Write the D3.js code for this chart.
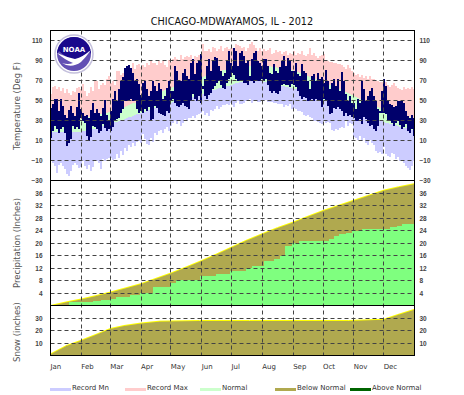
<!DOCTYPE html>
<html>
<head>
<meta charset="utf-8">
<script src="https://cdn.jsdelivr.net/npm/d3@7"></script>
<style>
  html, body { margin: 0; padding: 0; background: #fff; }
  svg { display: block; }
  text { font-family: "DejaVu Sans", sans-serif; fill: #333; }
  .tick text { font-family: "Liberation Sans", sans-serif; font-size: 6.5px; font-weight: bold; fill: #444; }
</style>
</head>
<body>
<svg id="chart" width="464" height="395"></svg>
<script>
const WIDTH = 464;
const HEIGHT = 395;

// values read every second day, Jan 1 onward
const recMax = [
  57,64,65,62,64,60,63,58,62,58,56,60,59,63,64,62,
  67,60,55,58,64,60,70,70,62,66,68,66,72,75,
  68,70,66,80,80,76,78,78,80,84,80,88,82,86,87,84,
  86,84,88,86,90,88,88,86,90,88,90,86,84,91,89,
  92,94,92,90,96,92,94,95,94,96,92,95,94,96,93,
  107,100,100,102,99,104,103,100,102,105,100,103,104,102,103,
  103,100,107,106,105,103,104,100,103,107,109,106,103,100,103,100,
  102,100,101,103,97,98,101,99,100,97,99,100,96,98,97,
  100,96,98,97,100,96,95,97,103,96,98,95,93,95,96,
  97,90,90,89,89,88,88,87,87,86,84,82,86,83,80,
  78,76,77,74,76,73,75,72,75,72,72,70,70,69,69,
  70,69,66,64,66,68,65,63,62,61,64,62,63,62,64,62
];
const recMin = [
  -10,-12,-15,-22,-14,-12,-15,-18,-23,-25,-20,-14,-12,-14,-17,-16,
  -10,-15,-18,-14,-20,-16,-10,-10,-12,-18,-8,-10,-8,-7,
  -7,-9,-8,-3,-7,0,-4,3,0,6,4,8,5,9,10,8,
  17,12,7,6,13,9,18,16,20,21,18,22,24,20,25,
  28,30,27,30,25,28,32,30,33,33,35,33,36,37,38,
  40,36,38,35,41,40,42,45,42,44,46,46,47,46,48,
  46,44,48,50,47,47,48,50,50,52,48,50,50,49,49,50,
  50,51,49,49,49,48,48,47,47,47,44,46,45,47,42,
  43,42,40,40,39,36,35,36,34,33,30,30,29,28,27,
  30,28,29,28,21,20,22,21,23,24,23,30,25,28,27,
  14,13,11,15,10,13,8,6,11,8,6,0,-2,-1,-3,
  4,-3,-5,-6,-2,-3,-8,-6,-10,-9,-12,-15,-17,-19,-15,-10
];
const obsHigh = [
  43,47,52,52,40,52,45,36,33,41,45,38,35,44,58,42,
  38,35,36,33,41,48,38,42,38,35,43,51,36,30,
  40,52,60,50,62,70,74,83,85,86,83,78,70,72,67,56,
  68,70,62,55,60,70,65,60,68,62,52,55,63,70,60,
  60,85,80,70,70,78,82,75,72,88,92,77,88,90,97,
  65,72,85,92,80,90,94,93,85,80,75,78,90,100,88,
  85,103,100,85,98,100,95,88,90,75,92,98,100,90,88,85,
  92,92,85,78,77,87,80,78,84,90,95,85,93,90,80,
  80,88,77,75,87,80,78,70,62,75,77,70,78,72,74,
  68,81,70,62,68,72,65,72,60,79,70,57,50,55,48,
  48,42,52,48,70,62,50,55,60,63,55,50,42,40,60,
  72,65,50,47,46,44,45,50,50,51,48,40,35,33,36,33
];
const obsLow = [
  13,20,25,22,18,22,24,18,5,8,12,25,22,24,22,33,
  30,28,15,10,14,25,24,22,18,20,27,23,20,22,
  20,24,30,32,33,38,42,50,50,50,52,50,50,42,38,40,
  38,42,40,44,30,32,45,43,38,37,36,35,40,38,50,
  52,48,45,44,46,48,45,44,42,50,57,52,50,55,48,
  62,55,52,56,58,62,65,68,70,66,63,62,68,72,74,
  78,76,72,70,70,70,68,68,66,70,70,68,70,70,70,72,
  70,72,66,60,58,60,58,57,60,66,67,66,66,64,67,
  66,64,60,55,52,54,53,50,50,52,50,52,50,50,44,
  52,50,45,37,38,43,42,44,42,40,35,38,35,36,34,
  33,30,30,32,27,34,32,28,25,26,22,20,25,38,38,
  38,37,30,30,28,25,28,30,26,22,24,27,20,18,22,15
];

const normalDays = [0,15,31,46,60,75,91,106,121,136,152,167,182,197,213,228,244,259,274,289,305,320,335,350,366];
const normLow = [19,18,19,22,27,32,38,43,48,52,57,62,66,70,69,66,62,56,50,45,40,34,28,24,20];
const normHigh = [32,31,32,35,39,44,51,57,63,68,74,79,83,85,85,83,80,74,68,62,54,47,41,36,32];
const precipNormal = [0,1.1,2.1,3.2,4.3,5.6,7,8.7,10.4,12.3,14.4,16.5,18.7,20.9,23,24.9,26.7,28.6,30.4,32,33.7,35.3,36.9,38,39];

const precipDays = [0,16,19,43,51,60,66,80,90,103,120,126,150,166,180,197,203,215,220,225,231,236,243,250,258,280,285,290,297,303,313,325,341,348,353,366];
const precipObs = [0,0.3,1,1.3,1.8,2.2,2.6,3.5,4,5.8,7.3,8.3,9.6,10,11,12,12.8,14.1,14.4,15,15.8,19.2,20,20.5,20.8,21.2,22.2,22.8,23.2,23.8,24.4,24.6,25.1,25.4,26.2,26.2];

const snowDays = [0,16,30,46,60,74,91,110,150,200,300,335,350,366];
const snowNormal = [1.3,8,12,17,21.6,24,26,27.5,28,28,28,29,33,37];

const monthStarts = [31,60,91,121,152,182,213,244,274,305,335];
const monthNames = ['Jan','Feb','Mar','Apr','May','Jun','Jul','Aug','Sep','Oct','Nov','Dec'];
const monthDays = [0].concat(monthStarts);

const tempTicks = [-30,-10,10,30,50,70,90,110];
const precipTicks = [4,8,12,16,20,24,28,32,36];
const snowTicks = [10,20,30];

const legendNames = ['Record Mn','Record Max','Normal','Below Normal','Above Normal'];
const legendColors = ['#ccccff','#ffcccc','#ccffcc','#b0a94f','#006400'];

const LEFT = 50.5;
const RIGHT = 414.5;

var svg = d3.select('#chart');
var x = d3.scaleLinear().domain([0, 366]).range([LEFT, RIGHT]);
var yTemp = d3.scaleLinear().domain([-30, 120]).range([180.5, 30.5]);
var yPrecip = d3.scaleLinear().domain([0, 40]).range([305.5, 180.5]);
var ySnow = d3.scaleLinear().domain([0, 40]).range([355.5, 305.5]);

var lowAt = d3.scaleLinear().domain(normalDays).range(normLow);
var highAt = d3.scaleLinear().domain(normalDays).range(normHigh);

// the daily rows hold one value per two days; carry the last one to Dec 31
function everyTwo(values) {
  var rows = values.map(function (d, i) {
    return { day: i * 2, v: d };
  });
  rows.push({ day: 366, v: values[values.length - 1] });
  return rows;
}

function pairs(days, values) {
  return days.map(function (d, i) {
    return { day: d, v: values[i] };
  });
}

function bandRows(low, high) {
  var lows = everyTwo(low);
  var highs = everyTwo(high);
  return lows.map(function (d, i) {
    return { day: d.day, low: d.v, high: highs[i].v };
  });
}

function addPath(d, fill) {
  return svg.append('path').attr('d', d).attr('fill', fill).attr('shape-rendering', 'crispEdges');
}

var tempArea = d3.area()
  .x(function (d) { return x(d.day); })
  .y0(function (d) { return yTemp(d.low); })
  .y1(function (d) { return yTemp(d.high); })
  .curve(d3.curveStepAfter);

// record max sits above the normal high, record min below the normal low
var maxRows = everyTwo(recMax).map(function (d) {
  return { day: d.day, low: highAt(d.day), high: d.v };
});
var minRows = everyTwo(recMin).map(function (d) {
  return { day: d.day, low: d.v, high: lowAt(d.day) };
});
var normalRows = everyTwo(recMax).map(function (d) {
  return { day: d.day, low: lowAt(d.day), high: highAt(d.day) };
});

addPath(tempArea(maxRows), '#ffcccc');
addPath(tempArea(minRows), '#ccccff');
addPath(tempArea(normalRows), '#ccffcc');
addPath(tempArea(bandRows(obsLow, obsHigh)), '#00006b');

function fillUnder(rows, y, fill, curve) {
  var area = d3.area()
    .x(function (d) { return x(d.day); })
    .y0(y(0))
    .y1(function (d) { return y(d.v); })
    .curve(curve);
  addPath(area(rows), fill);
}

function topLine(rows, y) {
  var line = d3.line()
    .x(function (d) { return x(d.day); })
    .y(function (d) { return y(d.v); });
  svg.append('path').attr('d', line(rows)).attr('fill', 'none')
    .attr('stroke', '#ffff00').attr('stroke-width', 1);
}

var precipRows = pairs(normalDays, precipNormal);
var snowRows = pairs(snowDays, snowNormal);
fillUnder(precipRows, yPrecip, '#b0a94f', d3.curveLinear);
fillUnder(pairs(precipDays, precipObs), yPrecip, '#7fff7f', d3.curveStepAfter);
topLine(precipRows, yPrecip);
fillUnder(snowRows, ySnow, '#b0a94f', d3.curveLinear);
topLine(snowRows, ySnow);

// dashed grid over the marks
function gridH(ticks, y) {
  svg.append('g').selectAll('line').data(ticks).enter().append('line')
    .attr('x1', LEFT).attr('x2', RIGHT)
    .attr('y1', function (d) { return Math.round(y(d) - 0.5) + 0.5; })
    .attr('y2', function (d) { return Math.round(y(d) - 0.5) + 0.5; })
    .attr('stroke', '#444').attr('stroke-dasharray', '4,3');
}
gridH(tempTicks.slice(1), yTemp);
gridH(precipTicks, yPrecip);
gridH(snowTicks, ySnow);

svg.append('g').selectAll('line').data(monthStarts).enter().append('line')
  .attr('x1', function (d) { return Math.round(x(d) - 0.5) + 0.5; })
  .attr('x2', function (d) { return Math.round(x(d) - 0.5) + 0.5; })
  .attr('y1', 30.5).attr('y2', 355.5)
  .attr('stroke', '#444').attr('stroke-dasharray', '4,3');

// tick labels on both sides
function sideAxis(y, ticks) {
  svg.append('g').attr('transform', 'translate(' + (LEFT - 2) + ',0)')
    .call(d3.axisLeft(y).tickValues(ticks).tickSize(0).tickPadding(6))
    .call(function (g) { g.select('.domain').remove(); });
  svg.append('g').attr('transform', 'translate(' + (RIGHT - 1) + ',0)')
    .call(d3.axisRight(y).tickValues(ticks).tickSize(0).tickPadding(6))
    .call(function (g) { g.select('.domain').remove(); });
}
sideAxis(yTemp, tempTicks);
sideAxis(yPrecip, precipTicks);
sideAxis(ySnow, snowTicks);

// panel frames
[[30.5, 180.5], [180.5, 305.5], [305.5, 355.5]].forEach(function (p) {
  svg.append('rect').attr('x', LEFT).attr('y', p[0])
    .attr('width', RIGHT - LEFT).attr('height', p[1] - p[0])
    .attr('fill', 'none').attr('stroke', '#000').attr('stroke-width', 1);
});

svg.append('text').attr('x', 232).attr('y', 25).attr('text-anchor', 'middle')
  .style('font-size', '9.7px').style('fill', '#111')
  .text('CHICAGO-MDWAYAMOS, IL - 2012');

function sideTitle(label, cy) {
  svg.append('text').attr('transform', 'translate(20,' + cy + ') rotate(-90)')
    .attr('text-anchor', 'middle').style('font-size', '8.5px').style('fill', '#555')
    .text(label);
}
sideTitle('Temperature (Deg F)', 106);
sideTitle('Precipitation (Inches)', 243);
sideTitle('Snow (inches)', 332);

svg.append('g').selectAll('text').data(monthNames).enter().append('text')
  .attr('x', function (d, i) { return x(monthDays[i]); })
  .attr('y', 369)
  .style('font-size', '7px')
  .text(function (d) { return d; });

var legend = svg.append('g').selectAll('g').data(legendNames).enter().append('g')
  .attr('transform', function (d, i) { return 'translate(' + (50 + i * 75) + ',0)'; });
legend.append('rect').attr('y', 388).attr('width', 21).attr('height', 3)
  .attr('fill', function (d, i) { return legendColors[i]; });
legend.append('text').attr('x', 22).attr('y', 390).style('font-size', '7px')
  .text(function (d) { return d; });

// NOAA badge
var badge = svg.append('g').attr('transform', 'translate(74,54)');
badge.append('circle').attr('r', 19).attr('fill', '#fff').attr('stroke', '#c4c0dc').attr('stroke-width', 1.5);
badge.append('circle').attr('r', 17).attr('fill', '#6350b4');
badge.append('path').attr('d', 'M-17,0 A17,17 0 0 1 17,0 L15,-3 Q8,4 0,6 Q-9,3 -15,-3 Z').attr('fill', '#1a0a8c');
badge.append('path').attr('d', 'M-17,-1 Q-9,6 -1,9 Q-6,11 -12,9 Q-3,15 7,8 Q12,3 17,-4 Q9,3 1,5 Q-8,3 -17,-1 Z').attr('fill', '#fff');
badge.append('text').attr('y', -2).attr('text-anchor', 'middle')
  .style('font-size', '7px').style('font-weight', 'bold').style('fill', '#fff').text('NOAA');
</script>
</body>
</html>
